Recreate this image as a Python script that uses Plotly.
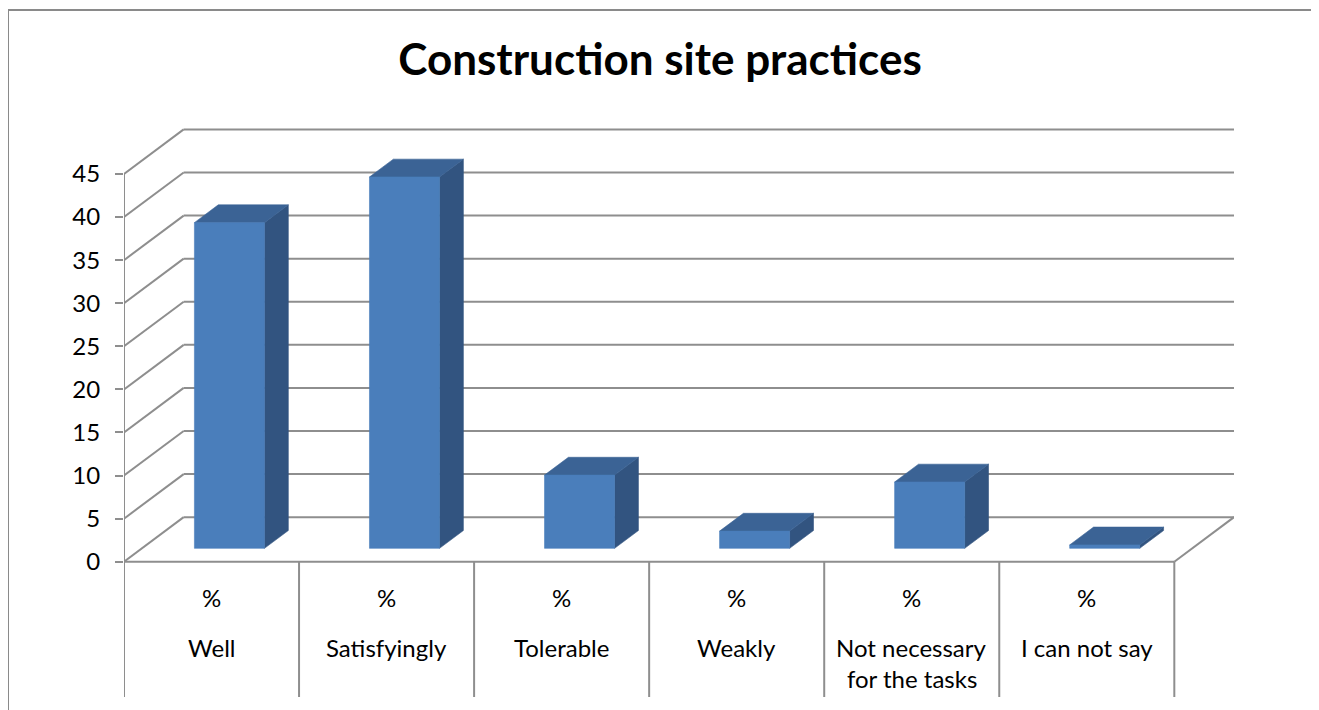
import plotly.graph_objects as go

# ---------------- data ----------------
categories = ["Well", "Satisfyingly", "Tolerable", "Weakly",
              "Not necessary<br>for the tasks", "I can not say"]
unit_labels = ["%", "%", "%", "%", "%", "%"]
values = [37.8, 43.1, 8.5, 2.0, 7.7, 0.4]
tick_values = [0, 5, 10, 15, 20, 25, 30, 35, 40, 45]
title_text = "Construction site practices"

# ---------------- styling / geometry ----------------
FONT = "Lato"
GRID = "#8E8E8E"
FRONT = "#4A7EBB"
TOP = "#3B6395"
SIDE = "#325480"
DX = 0.341          # depth offset in category units
DY = 5.17           # depth offset in value units
BAR_W = 0.4
D0, D1 = 0.3, 0.7   # bar depth span (fraction of floor depth)
Y_TOP = 50.45
Y_BOTTOM = -15.7
N = len(categories)
X_LEFT = -0.5
X_RIGHT = N - 0.5

OFF = 8             # page body margin
W, H = 1319 - OFF, 710 - OFF
ML, MR, MT, MB = 124 - OFF, 85, 127 - OFF, 13

fig = go.Figure()
shapes = []


def line(x0, y0, x1, y1, width=2):
    shapes.append(dict(type="line", xref="x", yref="y", x0=x0, y0=y0, x1=x1, y1=y1,
                       line=dict(color=GRID, width=width), layer="below"))


# back wall + side wall grid
top_tick = max(tick_values)
for t in tick_values:
    line(X_LEFT + DX, t + DY, X_RIGHT + DX, t + DY)
    line(X_LEFT, t, X_LEFT + DX, t + DY)
# floor front edge and right diagonal
line(X_LEFT, 0, X_RIGHT, 0)
line(X_RIGHT, 0, X_RIGHT + DX, DY)
# front vertical axis line
line(X_LEFT, top_tick, X_LEFT, Y_BOTTOM)
# category divider lines
for k in range(1, N + 1):
    line(X_LEFT + k, 0, X_LEFT + k, Y_BOTTOM)

# bars as filled polygons
for i, v in enumerate(values):
    xl = i - BAR_W / 2
    xr = i + BAR_W / 2
    fx = [xl + D0 * DX, xr + D0 * DX, xr + D0 * DX, xl + D0 * DX, xl + D0 * DX]
    fy = [D0 * DY, D0 * DY, v + D0 * DY, v + D0 * DY, D0 * DY]
    sx = [xr + D0 * DX, xr + D1 * DX, xr + D1 * DX, xr + D0 * DX, xr + D0 * DX]
    sy = [D0 * DY, D1 * DY, v + D1 * DY, v + D0 * DY, D0 * DY]
    tx = [xl + D0 * DX, xr + D0 * DX, xr + D1 * DX, xl + D1 * DX, xl + D0 * DX]
    ty = [v + D0 * DY, v + D0 * DY, v + D1 * DY, v + D1 * DY, v + D0 * DY]
    for xs, ys, col in ((sx, sy, SIDE), (tx, ty, TOP), (fx, fy, FRONT)):
        fig.add_trace(go.Scatter(x=xs, y=ys, mode="lines", fill="toself",
                                 fillcolor=col, line=dict(color=col, width=0.6),
                                 hoverinfo="skip", showlegend=False))

# category labels
LABEL_SIZE = 24
annotations = []
for i, (u, c) in enumerate(zip(unit_labels, categories)):
    annotations.append(dict(x=i, y=-4.1, xref="x", yref="y", text=u, showarrow=False,
                            font=dict(family=FONT, size=LABEL_SIZE, color="#000000"),
                            xanchor="center", yanchor="middle"))
    for j, part in enumerate(c.split("<br>")):
        annotations.append(dict(x=i, y=-9.9 - 3.6 * j, xref="x", yref="y", text=part,
                                showarrow=False,
                                font=dict(family=FONT, size=LABEL_SIZE, color="#000000"),
                                xanchor="center", yanchor="middle"))

# outer border (paper coords from figure pixel frame)
pw = W - ML - MR
ph = H - MT - MB


def px_x(p):
    return (p - OFF - ML) / pw


def px_y(p):
    return 1 - (p - OFF - MT) / ph


shapes.append(dict(type="rect", xref="paper", yref="paper",
                   x0=px_x(8), x1=px_x(1313), y0=px_y(716), y1=px_y(10),
                   line=dict(color="#8A8A8A", width=2), layer="below"))

fig.update_layout(
    width=W, height=H,
    margin=dict(l=ML, r=MR, t=MT, b=MB, pad=0),
    paper_bgcolor="white", plot_bgcolor="white",
    title=dict(text="<b>" + title_text + "</b>", xref="container", yref="container",
               x=(660 - OFF) / W, y=1 - (60 - OFF) / H, xanchor="center", yanchor="middle",
               font=dict(family=FONT, size=44, color="#000000")),
    xaxis=dict(range=[X_LEFT, X_RIGHT + DX], visible=False, fixedrange=True),
    yaxis=dict(range=[Y_BOTTOM, Y_TOP], showgrid=False, zeroline=False, showline=False,
               tickvals=tick_values, ticktext=[str(t) for t in tick_values],
               ticks="outside", ticklen=8, tickwidth=2, tickcolor=GRID,
               ticklabelstandoff=10,
               tickfont=dict(family=FONT, size=LABEL_SIZE, color="#000000"), fixedrange=True),
    shapes=shapes,
    annotations=annotations,
    showlegend=False,
)

fig.write_html("out.html")
